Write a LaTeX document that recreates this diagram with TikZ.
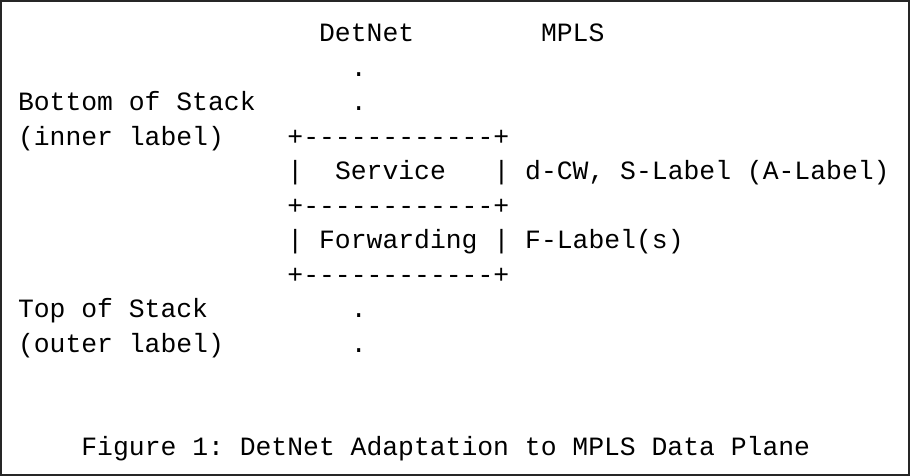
\documentclass[tikz,border=0pt]{standalone}
\usepackage{fontspec}
\setmonofont{Liberation Mono}[Ligatures=TeXOff]
\usepackage{tikz}
\usetikzlibrary{positioning}

\tikzset{
    art/.style={anchor=base west, inner sep=0pt, outer sep=0pt, font=\ttfamily\fontsize{26.4}{34.5}\selectfont\frenchspacing},
}

\begin{document}
\begin{tikzpicture}[x=1pt, y=1pt]
    \useasboundingbox (0,0) rectangle (910,476);
    \draw[line width=2pt, black!85] (1,1) rectangle (909,475);
    \begin{scope}[shift={(18pt,434pt)}, x=15.85pt, y=-34.5pt]
        % column headings
        \node[art] (detnet) at (19,0) {DetNet};
        \node[art] (mpls) at (33,0) {MPLS};
        \node[art] (dotA) at (21,1) {.};
        % bottom of stack
        \node[art] (bottom) at (0,2) {Bottom of Stack};
        \node[art] (dotB) at (21,2) {.};
        \node[art] (inner) at (0,3) {(inner label)};
        \node[art] (topedge) at (17,3) {+------------+};
        % service layer
        \node[art] (svcL) at (17,4) {|};
        \node[art] (service) at (20,4) {Service};
        \node[art] (svcR) at (30,4) {|};
        \node[art] (slabel) at (32,4) {d-CW, S-Label (A-Label)};
        \node[art] (midedge) at (17,5) {+------------+};
        % forwarding layer
        \node[art] (fwdL) at (17,6) {|};
        \node[art] (forwarding) at (19,6) {Forwarding};
        \node[art] (fwdR) at (30,6) {|};
        \node[art] (flabel) at (32,6) {F-Label(s)};
        \node[art] (lowedge) at (17,7) {+------------+};
        % top of stack
        \node[art] (top) at (0,8) {Top of Stack};
        \node[art] (dotC) at (21,8) {.};
        \node[art] (outer) at (0,9) {(outer label)};
        \node[art] (dotD) at (21,9) {.};
        % caption
        \node[art] (caption) at (4,12) {Figure 1: DetNet Adaptation to MPLS Data Plane};
    \end{scope}
\end{tikzpicture}
\end{document}
